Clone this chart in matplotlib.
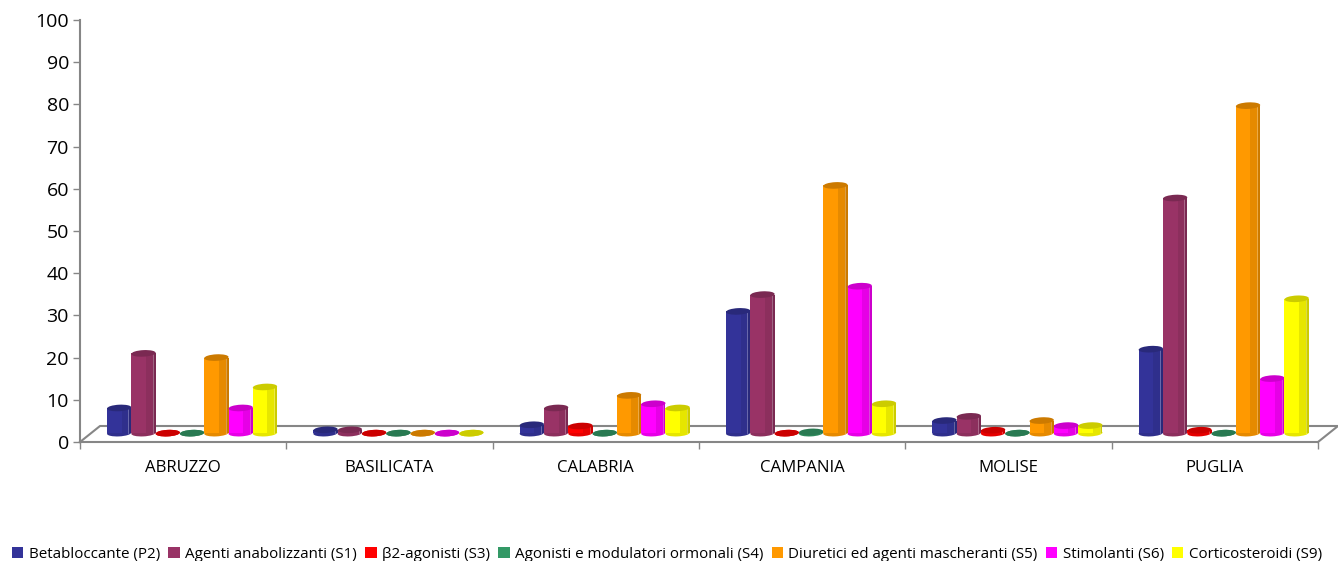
import matplotlib
matplotlib.use('Agg')
import matplotlib.pyplot as plt
from matplotlib.patches import Patch, PathPatch, Rectangle
from matplotlib.path import Path
from matplotlib.transforms import Affine2D

plt.rcParams['font.family'] = ['Open Sans', 'DejaVu Sans']

regions = ['ABRUZZO', 'BASILICATA', 'CALABRIA', 'CAMPANIA', 'MOLISE', 'PUGLIA']

betabloccante = [7, 1.8, 3, 30, 4, 21]
anabolizzanti = [20, 1.8, 7, 34, 5, 57]
beta2_agonisti = [0, 0, 2.7, 0, 1.7, 1.7]
modulatori = [0, 0, 0, 1.3, 0, 0]
diuretici = [19, 0, 10, 60, 4, 79]
stimolanti = [7, 0, 8, 36, 2.8, 14]
corticosteroidi = [12, 0, 7, 8, 2.8, 33]

series_names = ['Betabloccante (P2)', 'Agenti anabolizzanti (S1)', 'β2-agonisti (S3)',
                'Agonisti e modulatori ormonali (S4)', 'Diuretici ed agenti mascheranti (S5)',
                'Stimolanti (S6)', 'Corticosteroidi (S9)']
series_values = [betabloccante, anabolizzanti, beta2_agonisti, modulatori,
                 diuretici, stimolanti, corticosteroidi]
colors = ['#333399', '#993366', '#ff0000', '#339966', '#ff9900', '#ff00ff', '#ffff00']
mid_colors = ['#2f2f8c', '#8c2f5d', '#e60000', '#2e8a5c', '#e68a00', '#e600e6', '#e6e600']
top_colors = ['#29297a', '#7a2952', '#cc0000', '#297a52', '#cc7a00', '#cc00cc', '#cccc00']

W, H = 1338, 561
AX_L, AX_R, AX_T, AX_B = 80, 1318, 20, 442
GRAY = '#868686'

BAR_W = 24.3 / 206.3
BAR_OFF = 27 / 206.3
BASE = 2.1       # floor level of the bars, they stand back from the front edge
TOP0 = 1.1       # where the scale of the bar tops starts
SCALE = 0.995    # slight shrink from the 3d perspective
ELL_H = 1.55
TILT = 0.14      # ellipses rise a little to the right


def disc(ax, cx, cy, color, z):
    m = [[BAR_W / 2, 0, cx], [TILT, ELL_H / 2, cy], [0, 0, 1]]
    tr = Affine2D(m) + ax.transData
    ax.add_patch(PathPatch(Path.unit_circle(), fc=color, ec='none', transform=tr, zorder=z))


def cylinder(ax, x, v, i, z):
    y0 = BASE
    y1 = max(BASE, TOP0 + v * SCALE)
    disc(ax, x + BAR_W / 2, y0, mid_colors[i], z)
    if y1 > y0:
        # facets of the body, light to dark going right
        ax.add_patch(Rectangle((x, y0), BAR_W * 0.6, y1 - y0, fc=colors[i], ec='none', zorder=z))
        ax.add_patch(Rectangle((x + BAR_W * 0.6, y0), BAR_W * 0.3, y1 - y0, fc=mid_colors[i],
                               ec='none', zorder=z))
        ax.add_patch(Rectangle((x + BAR_W * 0.9, y0), BAR_W * 0.1, y1 - y0, fc=top_colors[i],
                               ec='none', zorder=z))
        ax.plot([x + BAR_W * 0.88] * 2, [y0, y1], color='white', lw=0.5, alpha=0.4, zorder=z)
    disc(ax, x + BAR_W / 2, y1, top_colors[i], z + 0.5)


def main():
    fig = plt.figure(figsize=(W / 100, H / 100), dpi=100)
    ax = fig.add_axes([AX_L / W, 1 - AX_B / H, (AX_R - AX_L) / W, (AX_B - AX_T) / H])
    ax.set_xlim(0, 6)
    ax.set_ylim(0, 100)

    for s in ['top', 'right']:
        ax.spines[s].set_visible(False)
    for s in ['left', 'bottom']:
        ax.spines[s].set_color(GRAY)
        ax.spines[s].set_linewidth(1.5)

    # floor of the 3d box
    dx = 20 / 206.3
    dy = 16 / 4.22
    ax.plot([0, dx, 6 + dx, 6], [0, dy, dy, 0], color=GRAY, lw=1.5, clip_on=False, zorder=1)

    z = 2
    for g in range(len(regions)):
        for i, vals in enumerate(series_values):
            cylinder(ax, g + BAR_OFF + i * BAR_W, vals[g], i, z)
            z += 1

    ax.set_yticks(range(0, 101, 10))
    ax.tick_params(axis='y', labelsize=14, length=5, width=1, color=GRAY, pad=3)
    ax.set_xticks(range(7))
    ax.set_xticklabels([])
    ax.tick_params(axis='x', which='major', length=5, width=1, color=GRAY)
    ax.set_xticks([g + 0.5 for g in range(6)], minor=True)
    ax.set_xticklabels(regions, minor=True, fontsize=12.1)
    ax.tick_params(axis='x', which='minor', length=0, pad=13)

    handles = [Patch(fc=c, ec='none') for c in colors]
    fig.legend(handles, series_names, loc='lower center', bbox_to_anchor=(0.4985, -0.02),
               ncol=7, frameon=False, fontsize=10.93, handlelength=0.75, handleheight=0.75,
               handletextpad=0.35, columnspacing=0.55, borderpad=0.2)

    fig.savefig('out.png', dpi=100)


if __name__ == '__main__':
    main()
